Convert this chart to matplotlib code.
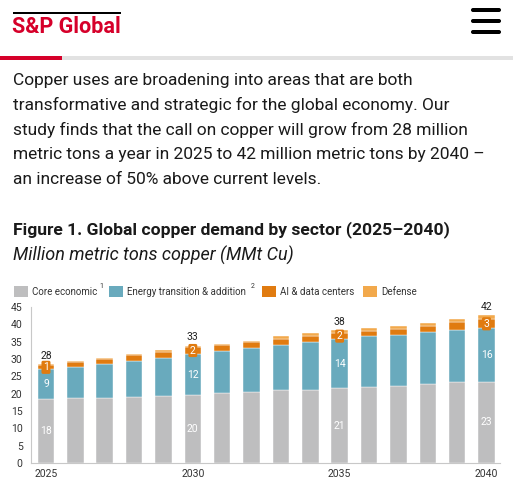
import matplotlib.pyplot as plt
from matplotlib.patches import Rectangle, FancyBboxPatch

# ── Datos ────────────────────────────────────────────────────────────────
anios = list(range(2025, 2041))
core = [18.4, 18.7, 18.7, 19.0, 19.2, 19.6, 20.1, 20.5, 21.0, 21.2, 21.6, 21.9, 22.2, 22.8, 23.3, 23.5]
energia = [8.6, 9.0, 10.0, 10.3, 11.1, 11.8, 12.1, 12.6, 13.0, 13.7, 14.1, 14.6, 14.7, 15.0, 15.1, 15.4]
ia = [1.2, 1.3, 1.2, 1.8, 1.6, 2.1, 1.8, 1.8, 1.9, 1.8, 1.8, 1.6, 1.7, 1.7, 2.4, 2.5]
defensa = [0.3, 0.3, 0.4, 0.4, 0.6, 0.3, 0.4, 0.4, 0.6, 0.7, 0.8, 0.8, 0.8, 0.9, 0.8, 1.2]

etiq_core = ["18", "", "", "", "", "20", "", "", "", "", "21", "", "", "", "", "23"]
etiq_energia = ["9", "", "", "", "", "12", "", "", "", "", "14", "", "", "", "", "16"]
etiq_ia = ["1", "", "", "", "", "2", "", "", "", "", "2", "", "", "", "", "3"]
etiq_total = ["28", "", "", "", "", "33", "", "", "", "", "38", "", "", "", "", "42"]
ticks_anio = ["2025", "", "", "", "", "2030", "", "", "", "", "2035", "", "", "", "", "2040"]

series = ["Core economic", "Energy transition & addition", "AI & data centers", "Defense"]
notas = ["1", "2", "", ""]
colores = ["#bebebf", "#69aabd", "#e07b10", "#f2a94c"]

ROJO = "#d6002a"
TEXTO = "#1a1a1a"

W, H = 513, 482
plt.rcParams["font.family"] = ["Roboto", "DejaVu Sans"]
fig = plt.figure(figsize=(W / 100, H / 100), dpi=100)


def px(x, y):
    return x / W, 1 - y / H


# ── Cabecera ─────────────────────────────────────────────────────────────
fig.add_artist(Rectangle(px(13, 14), 108 / W, 1.8 / H, transform=fig.transFigure, color="black", lw=0))
fig.text(*px(12, 27), "S&P Global", color=ROJO, fontsize=15.6, fontweight="bold", va="center", ha="left")
for yy in (10, 21, 32):
    fig.add_artist(FancyBboxPatch(px(471, yy + 2), 30 / W, 4 / H, boxstyle="round,pad=0,rounding_size=0.004",
                                  transform=fig.transFigure, color="black", lw=0))
fig.add_artist(Rectangle(px(0, 60), 1, 4 / H, transform=fig.transFigure, color="#e2e2e2", lw=0))
fig.add_artist(Rectangle(px(0, 60), 62 / W, 4 / H, transform=fig.transFigure, color=ROJO, lw=0))

# ── Párrafo ──────────────────────────────────────────────────────────────
lineas = [
    "Copper uses are broadening into areas that are both",
    "transformative and strategic for the global economy. Our",
    "study finds that the call on copper will grow from 28 million",
    "metric tons a year in 2025 to 42 million metric tons by 2040 –",
    "an increase of 50% above current levels.",
]
for i, linea in enumerate(lineas):
    fig.text(*px(13, 80 + 25 * i), linea, fontsize=12.55, color=TEXTO, va="center", ha="left")

fig.text(*px(13, 230), "Figure 1. Global copper demand by sector (2025–2040)", fontsize=12.6,
         fontweight="bold", color=TEXTO, va="center", ha="left")
fig.text(*px(13, 255), "Million metric tons copper (MMt Cu)", fontsize=13, style="italic",
         color=TEXTO, va="center", ha="left")

# ── Leyenda ──────────────────────────────────────────────────────────────
x_leyenda = [14, 109, 262, 363]
for xl, nombre, nota, color in zip(x_leyenda, series, notas, colores):
    fig.add_artist(Rectangle(px(xl, 297), 14 / W, 11 / H, transform=fig.transFigure, color=color, lw=0))
    t = fig.text(*px(xl + 18, 292), nombre, fontsize=7, color="#333333", va="center", ha="left")
    if nota:
        fig.canvas.draw()
        bb = t.get_window_extent()
        gap = 2 if nota == "1" else 5
        fig.text(bb.x1 / W + gap / W, 1 - 290 / H, nota, fontsize=5, color="#333333", va="bottom", ha="left")

# ── Gráfica ──────────────────────────────────────────────────────────────
ax = fig.add_axes([31 / W, (H - 463) / H, (500 - 31) / W, 156 / H])
x = list(range(len(anios)))
ancho = 0.56

base = [0] * len(x)
for valores, color in zip([core, energia, ia, defensa], colores):
    ax.bar(x, valores, ancho, bottom=base, color=color, edgecolor="white", linewidth=0.3)
    base = [b + v for b, v in zip(base, valores)]

for i in x:
    if etiq_core[i]:
        ax.text(i, core[i] / 2, etiq_core[i], color="white", fontsize=7.5, ha="center", va="center")
    if etiq_energia[i]:
        ax.text(i, core[i] + energia[i] / 2, etiq_energia[i], color="white", fontsize=7.5, ha="center", va="center")
    if etiq_ia[i]:
        ax.text(i, core[i] + energia[i] + ia[i] / 2, etiq_ia[i], color="white", fontsize=7.5, ha="center",
                va="center", bbox=dict(boxstyle="round,pad=0.15", fc=colores[2], ec="none"))
    if etiq_total[i]:
        ax.text(i, base[i] + 1.0, etiq_total[i], color="#222222", fontsize=7.5, ha="center", va="bottom")

ax.set_xlim(-0.51, 15.46)
ax.set_ylim(0, 45)
ax.set_yticks(range(0, 50, 5))
ax.set_xticks(x)
ax.set_xticklabels(ticks_anio)
ax.tick_params(axis="both", length=0, labelsize=7.5, colors="#333333")
ax.tick_params(axis="y", pad=6)
ax.tick_params(axis="x", pad=4)
for lado in ("top", "right"):
    ax.spines[lado].set_visible(False)
for lado in ("left", "bottom"):
    ax.spines[lado].set_color("#c8c8c8")
    ax.spines[lado].set_linewidth(0.8)

fig.savefig("out.png", dpi=100)
